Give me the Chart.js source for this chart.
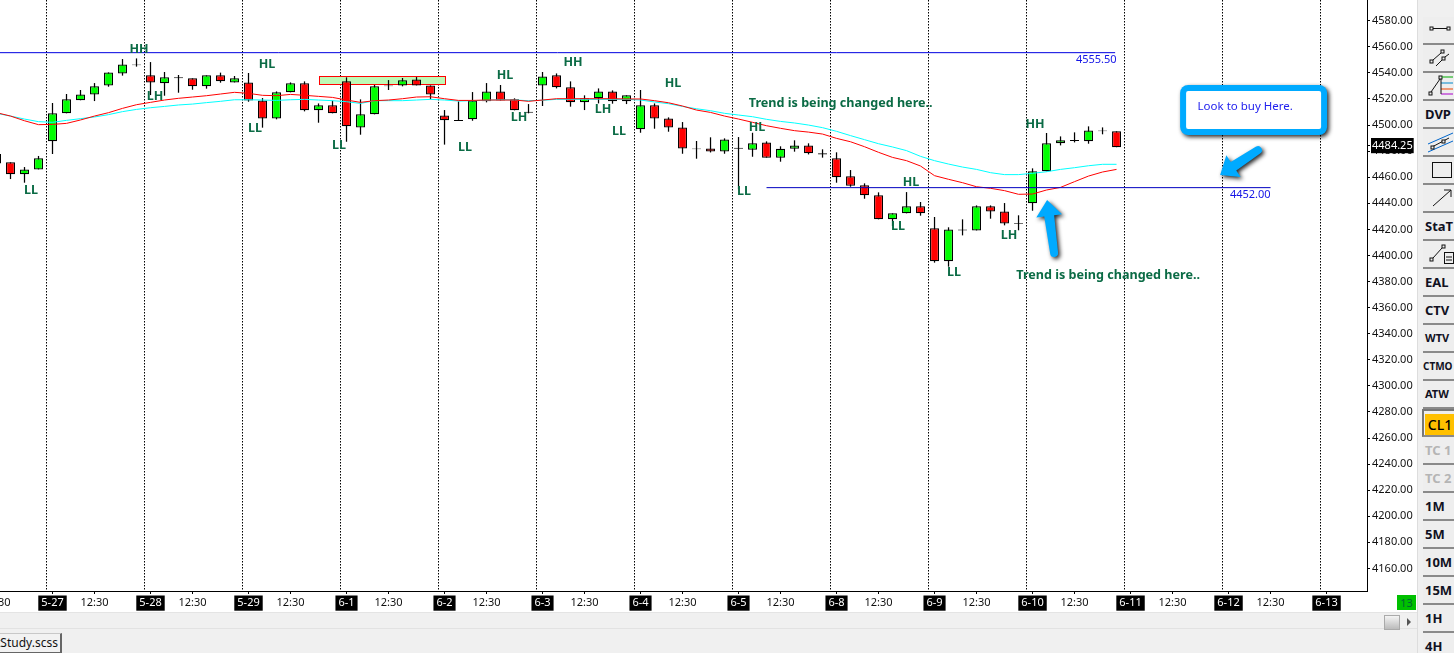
<!DOCTYPE html>
<html>
<head>
<meta charset="utf-8">
<script src="https://cdn.jsdelivr.net/npm/chart.js@4"></script>
<style>
html,body{margin:0;padding:0;background:#fff;overflow:hidden;width:1454px;height:653px;font-family:"Noto Sans",sans-serif}
#c{position:absolute;left:0;top:0}
#bottom{position:absolute;left:0;top:612px;width:1417px;height:41px;background:#f0f0f0;border-top:1px solid #e4e4e4;box-sizing:border-box}
#line2{position:absolute;left:0;top:15px;width:1417px;height:1px;background:#e2e2e2}
#tab{position:absolute;left:-5px;top:20px;width:64px;height:18px;background:#f2f2f2;border:1px solid #c8c8c8;border-right:2px solid #666;border-bottom:2px solid #666;font-size:12px;line-height:18px;color:#111;white-space:nowrap;overflow:hidden}
#thumb{position:absolute;left:1384px;top:2px;width:14px;height:13px;background:linear-gradient(#f4f4f4,#bbb);border:1px solid #aaa}
#arrow{position:absolute;left:1407px;top:5px;width:0;height:0;border-left:4px solid #555;border-top:4px solid transparent;border-bottom:4px solid transparent}
#count{position:absolute;left:1397px;top:595px;width:19px;height:15px;background:#00c000;color:#063;font-size:11px;line-height:15px;text-align:center}
#tools{position:absolute;left:1417px;top:0;width:37px;height:653px;background:#f0f0f0;border-left:1px solid #ddd;box-sizing:border-box;overflow:hidden}
.btn{position:absolute;left:5px;width:40px;height:26px;background:#eee;border-bottom:2px solid #8a8a8a;font-weight:700;font-size:13px;line-height:26px;color:#112;padding-left:2px;box-sizing:content-box;white-space:nowrap}
.btn svg{position:absolute;left:2px;top:1px}
.btn.off{color:#b5b5b5}
.btn.on span{background:#ffc000;display:inline-block;width:30px;height:21px;line-height:21px;margin-top:3px;text-align:center;color:#000;font-weight:500;font-size:14px}
.btn.on{border-left:2px solid #777;border-top:2px solid #777;height:24px;left:4px;padding-left:1px}
</style>
</head>
<body>
<canvas id="c" width="1454" height="653"></canvas>
<div id="bottom"><div id="line2"></div><div id="tab">tStudy.scss</div><div id="thumb"></div><div id="arrow"></div></div>
<div id="count">13</div>
<div id="tools"></div>
<script>
var opens = [4477.8,4471.4,4462.2,4466,4487.5,4509,4519,4523.5,4530.4,4539.6,4545.8,4538.1,4532,4535.8,4535.8,4529.7,4538.1,4532.7,4532.7,4518.9,4505.1,4525.1,4532,4511.3,4515.1,4533.5,4498.2,4508.2,4529.7,4530.4,4535,4530.4,4507.4,4503.1,4504.4,4518.2,4525.8,4519.7,4509.5,4530.4,4538.1,4528.9,4517.4,4520.5,4525.8,4518.2,4496.7,4515.1,4505.1,4498.2,4481.4,4482.1,4479.8,4481.9,4481.1,4486.7,4475,4481.9,4484.4,4477.5,4474.5,4460.7,4453.8,4446.1,4427.7,4432.3,4437.7,4420.8,4395.5,4419.2,4419.2,4437.7,4433.8,4424.4,4440,4464.5,4486,4487.8,4487.5,4495.2,4495.2];
var closes = [4470.6,4462.2,4466,4474.5,4509,4519.7,4523.5,4529.7,4540.4,4546.5,4546.5,4532.7,4536.6,4536.6,4529.7,4538.1,4533.5,4535.8,4518.9,4505.1,4525.1,4532,4511.3,4515.1,4509,4499,4508.2,4529.7,4530.4,4534.3,4530.4,4523.5,4503.6,4503.9,4518.9,4525.8,4518.9,4511.3,4510.2,4537.3,4528.9,4517.4,4520.5,4525.8,4518.2,4522.8,4515.1,4505.1,4498.2,4482.1,4482.1,4479.8,4489,4482.6,4486,4475,4481.9,4484.4,4478.3,4478.3,4459.9,4453.5,4446.1,4427.7,4432.3,4437.7,4432.3,4395.5,4420,4420,4437.7,4433.8,4424.6,4424.9,4464.5,4486,4488.3,4488.5,4495.9,4495.9,4483];
var highs = [4477.8,4471.4,4467.8,4476.3,4516.9,4523.8,4526.9,4532.2,4540.4,4550.6,4551.1,4548.3,4540.7,4538.4,4535.8,4538.1,4540.2,4537.6,4539.9,4520.7,4525.8,4532.7,4533.5,4516.6,4518.7,4536.6,4519.7,4530.7,4534.5,4536.1,4536.8,4530.4,4511.5,4518.2,4525.3,4532.2,4530.7,4520.5,4516.1,4540.7,4539.6,4533.5,4522.8,4528.1,4526.6,4522.8,4526.9,4516.6,4505.9,4502.3,4487.8,4490.6,4489.8,4490.8,4494.1,4487.5,4483.7,4488.3,4486,4481.4,4479.1,4465.5,4455.3,4448.4,4432.3,4448.6,4441,4429.5,4421.6,4427.7,4438.4,4438.4,4440.2,4430.8,4466.8,4493.9,4491.3,4494.4,4499,4498.2,4495.2];
var lows = [4470.6,4458.6,4455.8,4466,4477.8,4509,4519,4518.4,4529.4,4537.9,4544.8,4523,4522.5,4524.8,4527.1,4527.9,4532.5,4532.7,4517.9,4498,4504.4,4525.1,4510.5,4501.8,4509,4487.2,4492.6,4508.2,4526.9,4529.7,4530.4,4519.7,4485,4503.1,4503.3,4517.4,4518.9,4511.3,4509,4514.6,4528.1,4514.1,4511.5,4516.6,4516.4,4516.1,4494.1,4497.2,4494.9,4478,4474.2,4479,4478,4450.7,4475.7,4475,4471.9,4479.6,4477.5,4475,4455.8,4452.7,4443.5,4427.7,4422.6,4432.3,4430.5,4394.5,4391.4,4415.4,4419.2,4428.2,4423.1,4419.3,4434.3,4464.5,4484.4,4486.7,4485.7,4492.9,4483];
var redAvg = [4509.5,4506.9,4503.3,4500.3,4500.5,4501.3,4503.9,4506.9,4509.5,4512.8,4515.6,4517.4,4519.2,4520.5,4521.5,4522.5,4523.8,4525.1,4524.3,4522.8,4522.5,4523.5,4522.8,4522,4521.2,4519.2,4517.4,4518.7,4519.2,4520.2,4521.5,4521.7,4520.2,4518.9,4518.9,4519.2,4519.2,4519.2,4518.2,4519.2,4520.2,4520.2,4520.2,4520.2,4520.2,4520,4520,4518.7,4517.1,4514.6,4511.5,4509.7,4506.9,4504.6,4502.1,4499.5,4497.5,4495.7,4494.6,4493.1,4489.8,4487.2,4483.4,4479.1,4475.2,4472.7,4468.6,4461.2,4458.4,4455.8,4452.7,4451.5,4449.7,4446.9,4447.1,4450.2,4452.2,4456.6,4460.9,4464,4466];
var cyanAvg = [4509,4506.9,4504.6,4502.6,4502.1,4503.6,4504.9,4506.2,4508,4510.3,4512,4513.3,4514.3,4515.4,4516.1,4517.2,4518.2,4519.4,4519.4,4519.2,4518.9,4519.4,4519.7,4519.2,4518.7,4517.9,4516.6,4518.7,4518.7,4518.7,4519.2,4519.7,4519.2,4518.4,4518.7,4519,4519.5,4519.2,4518.7,4519,4519.7,4519.7,4519.7,4519.7,4519.7,4519.7,4519.2,4517.7,4516.4,4514.3,4512.5,4511,4509,4507.7,4506.4,4504.4,4502.8,4501.6,4500,4498,4495.2,4491.9,4488.8,4485.7,4483.2,4480.4,4476,4472.7,4470.1,4467.8,4466,4463.5,4462,4462,4463,4464.2,4466,4467.3,4468.8,4469.9,4469.9];
var firstBar = -1;

var priceTicks = [4580,4560,4540,4520,4500,4480,4460,4440,4420,4400,4380,4360,4340,4320,4300,4280,4260,4240,4220,4200,4180,4160];
var lastPrice = 4484.25;
var dayBars = [3,10,17,24,31,38,45,52,59,66,73,80,87,94];
var dayLabels = ['5-27','5-28','5-29','6-1','6-2','6-3','6-4','6-5','6-8','6-9','6-10','6-11','6-12','6-13'];
var noonBars = [-1,6,13,20,27,34,41,48,55,62,69,76,83,90];
var sessionLines = [2.55,9.55,16.55,23.55,30.55,37.55,44.55,51.55,58.55,65.55,72.55,79.55,86.55,93.55];

var swingTexts = ['LL','HH','LH','HL','LL','LL','LL','HL','LH','HH','LH','LL','HL','HL','LL','HL','LL','LL','LH','HH'];
var swingBars = [1.46,9.18,10.32,18.32,17.46,23.46,32.46,35.32,36.32,40.18,42.32,43.46,47.32,53.32,52.39,64.32,63.39,67.39,71.32,73.18];
var swingPrices = [4450.9,4559.1,4523,4547.6,4498.5,4485.4,4483.9,4539.1,4506.9,4549.1,4513.1,4496.2,4533,4499.2,4450.2,4457.1,4423.3,4388.1,4416.4,4501.5];
var noteText = 'Trend is being changed here..';
var noteBars = [59.3,78.4];
var notePrices = [4517.7,4385.8];
var levelHigh = 4555.5;
var levelHighBars = [-0.75,78.9];
var levelLow = 4452;
var levelLowBars = [54,90];
var buyText = 'Look to buy Here.';

var toolLabels = ['','','','DVP','','','','StaT','','EAL','CTV','WTV','CTMO','ATW','CL1','TC 1','TC 2','1M','5M','10M','15M','1H','4H'];

// toolbar on the right
var icons = {
  0:'<rect x="5" y="9" width="3" height="3" fill="none" stroke="#111"/><rect x="22" y="9" width="3" height="3" fill="none" stroke="#111"/><line x1="8" y1="10.5" x2="22" y2="10.5" stroke="#111"/>',
  1:'<rect x="5" y="14" width="3" height="3" fill="none" stroke="#111"/><rect x="16" y="4" width="3" height="3" fill="none" stroke="#111"/><line x1="8" y1="14" x2="16" y2="7" stroke="#111"/><rect x="17" y="11" width="3" height="3" fill="none" stroke="#111"/><line x1="11" y1="20" x2="17" y2="14" stroke="#111"/><line x1="20" y1="11" x2="24" y2="8" stroke="#111"/>',
  2:'<rect x="4" y="18" width="3" height="3" fill="none" stroke="#111"/><rect x="14" y="2" width="3" height="3" fill="none" stroke="#111"/><line x1="6" y1="18" x2="15" y2="5" stroke="#111"/><line x1="17" y1="3" x2="28" y2="3" stroke="#0a0"/><line x1="16" y1="9" x2="28" y2="9" stroke="#08c"/><line x1="16" y1="15" x2="28" y2="15" stroke="#e40"/><line x1="16" y1="20" x2="28" y2="20" stroke="#a0c"/><line x1="16" y1="5" x2="16" y2="20" stroke="#111"/>',
  4:'<line x1="3" y1="14" x2="28" y2="3" stroke="#06c"/><line x1="3" y1="22" x2="28" y2="11" stroke="#06c"/><line x1="7" y1="17" x2="24" y2="8" stroke="#111"/><rect x="6" y="16" width="3" height="3" fill="#eee" stroke="#111"/><rect x="17" y="10" width="3" height="3" fill="#eee" stroke="#111"/>',
  5:'<rect x="7.5" y="4.5" width="19" height="15" fill="none" stroke="#111"/>',
  6:'<line x1="8" y1="20" x2="26" y2="4" stroke="#111"/><polyline points="19,4 26,4 26,11" fill="none" stroke="#111"/>',
  8:'<rect x="5" y="16" width="3" height="3" fill="none" stroke="#111"/><rect x="17" y="3" width="3" height="3" fill="none" stroke="#111"/><line x1="8" y1="16" x2="17" y2="6" stroke="#111"/><rect x="19.5" y="10.5" width="9" height="11" fill="#eee" stroke="#111"/><line x1="21" y1="15" x2="27" y2="15" stroke="#111"/><line x1="21" y1="18" x2="27" y2="18" stroke="#111"/>'
};
var tools = document.getElementById('tools');
toolLabels.forEach(function(t, k){
  var b = document.createElement('div');
  b.className = 'btn';
  b.style.top = (17 + k * 28) + 'px';
  if (icons[k] !== undefined) {
    b.innerHTML = '<svg width="32" height="26">' + icons[k] + '</svg>';
  } else if (t === 'CL1') {
    b.className = 'btn on';
    b.innerHTML = '<span>' + t + '</span>';
  } else {
    if (t === 'TC 1' || t === 'TC 2') b.className = 'btn off';
    if (t === 'WTV' || t === 'ATW') b.style.fontSize = '11px';
    if (t === 'CTMO') { b.style.fontSize = '10px'; b.style.paddingLeft = '0'; }
    b.textContent = t;
  }
  tools.appendChild(b);
});

// session lines and the marked zone sit behind the candles
var backdrop = {
  id: 'backdrop',
  beforeDatasetsDraw: function(chart){
    var ctx = chart.ctx, x = chart.scales.x, y = chart.scales.y;
    ctx.save();
    ctx.strokeStyle = '#000';
    ctx.lineWidth = 1;
    ctx.setLineDash([1.5,1.5]);
    sessionLines.forEach(function(v){
      var px = Math.round(x.getPixelForValue(v)) + 0.5;
      ctx.beginPath();
      ctx.moveTo(px, 0);
      ctx.lineTo(px, chart.chartArea.bottom);
      ctx.stroke();
    });
    ctx.setLineDash([]);
    var bx = x.getPixelForValue(22.04), by = y.getPixelForValue(4537.6);
    var bw = x.getPixelForValue(31.04) - bx, bh = y.getPixelForValue(4531.5) - by;
    ctx.fillStyle = '#bdf9b5';
    ctx.fillRect(bx, by, bw, bh);
    ctx.strokeStyle = '#ff0000';
    ctx.strokeRect(Math.round(bx)+0.5, Math.round(by)+0.5, Math.round(bw), Math.round(bh));
    ctx.restore();
  }
};

function arrow(ctx, x0, y0, x1, y1){
  var a = Math.atan2(y1-y0, x1-x0), c = Math.cos(a), s = Math.sin(a);
  var hx = x1 - c*16, hy = y1 - s*16;
  ctx.beginPath();
  ctx.moveTo(x1, y1);
  ctx.lineTo(hx - s*13, hy + c*13);
  ctx.lineTo(hx - s*5, hy + c*5);
  ctx.lineTo(x0 - s*4, y0 + c*4);
  ctx.arc(x0, y0, 4, a + Math.PI/2, a - Math.PI/2);
  ctx.lineTo(hx + s*5, hy - c*5);
  ctx.lineTo(hx + s*13, hy - c*13);
  ctx.closePath();
  ctx.fill();
}

var notes = {
  id: 'notes',
  afterDatasetsDraw: function(chart){
    var ctx = chart.ctx, x = chart.scales.x, y = chart.scales.y;
    ctx.save();
    ctx.textAlign = 'center';
    ctx.textBaseline = 'middle';
    ctx.fillStyle = '#0b6b45';
    ctx.font = 'bold 12.5px "Noto Sans"';
    swingTexts.forEach(function(t, k){
      ctx.fillText(t, x.getPixelForValue(swingBars[k]), y.getPixelForValue(swingPrices[k]) + 1.5);
    });
    ctx.font = 'bold 12.6px "Noto Sans"';
    noteBars.forEach(function(b, k){
      ctx.fillText(noteText, x.getPixelForValue(b), y.getPixelForValue(notePrices[k]) + 1.5);
    });
    ctx.fillStyle = '#1414e6';
    ctx.font = '11px "Noto Sans"';
    ctx.fillText(levelHigh.toFixed(2), x.getPixelForValue(77.55), y.getPixelForValue(levelHigh) + 7.5);
    ctx.fillText(levelLow.toFixed(2), x.getPixelForValue(88.55), y.getPixelForValue(levelLow) + 7.5);

    // callout box
    var bx = x.getPixelForValue(83.54), by = y.getPixelForValue(4530.7);
    var bw = x.getPixelForValue(94.04) - bx, bh = y.getPixelForValue(4492.3) - by;
    ctx.save();
    ctx.shadowColor = 'rgba(0,0,0,.85)';
    ctx.shadowBlur = 4;
    ctx.shadowOffsetX = 2;
    ctx.shadowOffsetY = 2;
    ctx.fillStyle = '#00aaff';
    ctx.beginPath();
    ctx.roundRect(bx, by, bw, bh, 8);
    ctx.fill();
    arrow(ctx, x.getPixelForValue(89.1), y.getPixelForValue(4480.8), x.getPixelForValue(86.4), y.getPixelForValue(4461.7));
    arrow(ctx, x.getPixelForValue(74.54), y.getPixelForValue(4401.9), x.getPixelForValue(74.04), y.getPixelForValue(4442.5));
    ctx.restore();
    ctx.fillStyle = '#fff';
    ctx.beginPath();
    ctx.roundRect(bx+6, by+6, bw-12, bh-12, 2);
    ctx.fill();
    ctx.fillStyle = '#2222ee';
    ctx.font = '11.5px "Noto Sans"';
    ctx.textAlign = 'left';
    ctx.fillText(buyText, bx+17.5, by+22);
    ctx.restore();
  }
};

var bars = opens.map(function(o, k){ return firstBar + k; });
var bodyColors = opens.map(function(o, k){ return closes[k] >= o ? '#00ff00' : '#ff0000'; });
var xTicks = dayBars.concat(noonBars);
var xNames = {};
dayBars.forEach(function(b, k){ xNames[b] = dayLabels[k]; });
noonBars.forEach(function(b){ xNames[b] = '12:30'; });

function lineSet(data, color, order){
  return {type:'line', data:data, borderColor:color, borderWidth:1, pointRadius:0, tension:0, order:order};
}

function noPadding(s){
  s.paddingTop = 0; s.paddingBottom = 0; s.paddingLeft = 0; s.paddingRight = 0;
}

new Chart(document.getElementById('c'), {
  type: 'bar',
  plugins: [backdrop, notes],
  data: {
    datasets: [
      {data: bars.map(function(b, k){ return {x:b, y:[lows[k], highs[k]]}; }), backgroundColor:'#000', barThickness:1.25, grouped:false, inflateAmount:0, order:6},
      {data: bars.map(function(b, k){ return {x:b, y:[opens[k], closes[k]]}; }), backgroundColor:bodyColors, borderColor:'#000', borderWidth:1.25, borderSkipped:false, barThickness:9, grouped:false, inflateAmount:0, order:5},
      lineSet(bars.map(function(b, k){ return {x:b, y:cyanAvg[k]}; }), '#00ffff', 3),
      lineSet(bars.map(function(b, k){ return {x:b, y:redAvg[k]}; }), '#ff0000', 2),
      lineSet(levelHighBars.map(function(b){ return {x:b, y:levelHigh}; }), '#0000e0', 1),
      lineSet(levelLowBars.map(function(b){ return {x:b, y:levelLow}; }), '#0000c0', 1)
    ]
  },
  options: {
    responsive: false,
    animation: false,
    devicePixelRatio: 1,
    events: [],
    layout: {padding: 0},
    plugins: {legend:{display:false}, tooltip:{enabled:false}},
    scales: {
      x: {
        type: 'linear',
        offset: false,
        min: -0.75,
        max: 96.89,
        afterFit: function(s){ s.height = 62; noPadding(s); },
        afterBuildTicks: function(s){ s.ticks = xTicks.map(function(v){ return {value:v}; }); },
        border: {color:'#000', width:1},
        grid: {drawOnChartArea:false, drawTicks:true, color:'#000', tickLength:3, offset:false},
        ticks: {
          autoSkip: false,
          maxRotation: 0,
          padding: 2.5,
          font: {family:'"Noto Sans"', size:11},
          color: function(c){ return c.tick && c.tick.value in xNames && xNames[c.tick.value] !== '12:30' ? '#fff' : '#111'; },
          showLabelBackdrop: function(c){ return c.tick && xNames[c.tick.value] !== '12:30'; },
          backdropColor: '#000',
          backdropPadding: {left:3, right:3, top:1, bottom:1},
          callback: function(v){ return xNames[v]; }
        }
      },
      y: {
        position: 'right',
        min: 4142.7,
        max: 4595.9,
        afterFit: function(s){ s.width = 87; noPadding(s); },
        afterBuildTicks: function(s){ s.ticks = priceTicks.concat([lastPrice]).map(function(v){ return {value:v}; }); },
        border: {color:'#000', width:1},
        grid: {drawOnChartArea:false, drawTicks:true, color:'#000', tickLength:3},
        ticks: {
          autoSkip: false,
          padding: 2,
          font: {family:'"Noto Sans"', size:11},
          color: function(c){ return c.tick && c.tick.value === lastPrice ? '#fff' : '#111'; },
          showLabelBackdrop: function(c){ return c.tick && c.tick.value === lastPrice; },
          backdropColor: '#000',
          backdropPadding: {left:1, right:1, top:1, bottom:1},
          callback: function(v){ return v.toFixed(2); }
        }
      }
    }
  }
});
</script>
</body>
</html>
